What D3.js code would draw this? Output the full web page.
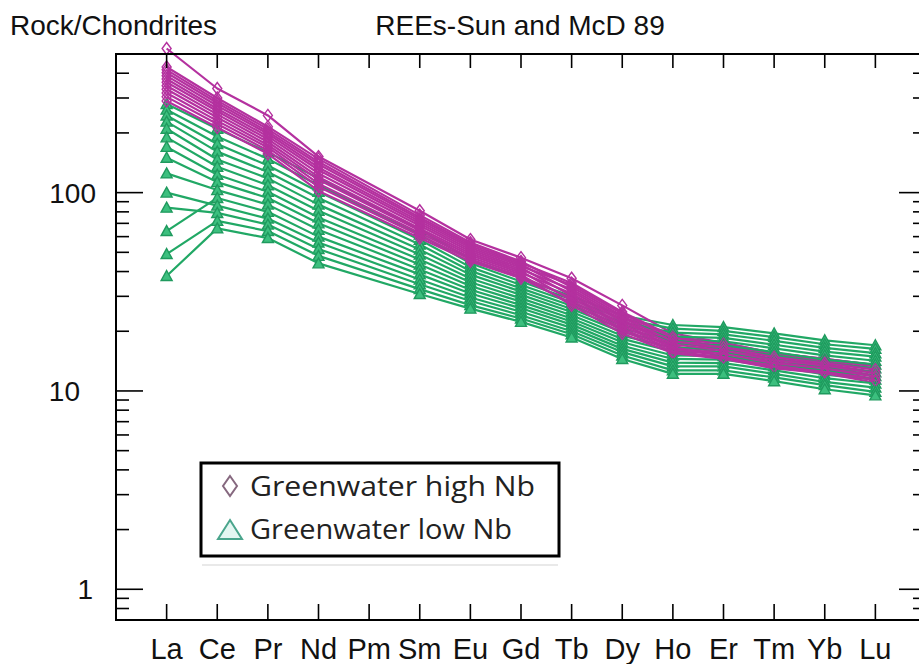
<!DOCTYPE html>
<html>
<head>
<meta charset="utf-8">
<script src="https://cdn.jsdelivr.net/npm/d3@7"></script>
<style>
  html, body { margin: 0; padding: 0; background: #fff; }
  svg { display: block; }
</style>
</head>
<body>
<svg id="chart" width="919" height="664"></svg>
<script>
// ---------- DATA ----------
const categories = ["La","Ce","Pr","Nd","Pm","Sm","Eu","Gd","Tb","Dy","Ho","Er","Tm","Yb","Lu"];
const yTickLabels = [1, 10, 100];
const titleLeft = "Rock/Chondrites";
const titleCenter = "REEs-Sun and McD 89";
const legendLabels = ["Greenwater high Nb", "Greenwater low Nb"];

// Greenwater high Nb (diamonds)
const highNb = [
  [533,335,245,152,null,81,58,47,37,27,19.5,17.5,15.5,14.5,13.5],
  [430,300,215,148,null,77,56,45,33.4,23.9,18.1,16.9,15,14.1,13],
  [416,291,209,143,null,75,54.9,44.2,35,25,18.8,17.5,15.5,14.5,13.5],
  [402,283,203,139,null,73.4,53.8,43.4,31.8,22.8,17.5,16.3,14.5,13.6,12.5],
  [388,274,198,134,null,71.6,52.7,42.6,34.2,24.5,18.5,17.2,15.3,14.3,13.3],
  [374,265,192,130,null,69.8,51.6,41.8,30.2,21.7,16.8,15.7,14,13.2,12],
  [360,257,186,125,null,68,50.5,41,32.6,23.4,17.8,16.6,14.8,13.8,12.8],
  [346,248,180,120,null,66,49.4,40.2,28.6,20.6,16.2,15.1,13.5,12.7,11.5],
  [332,239,174,116,null,64.4,48.3,39.4,31,22.3,17.2,16,14.3,13.4,12.3],
  [318,230,169,111,null,62.6,47.2,38.6,27,19.5,15.5,14.5,13,12.3,11],
  [304,222,163,107,null,60.8,46.1,37.8,29.4,21.2,16.5,15.4,13.8,13,11.8],
  [290,213,157,102,null,59,45,37,27.8,20.1,15.8,14.8,13.3,12.5,11.3]
];

// Greenwater low Nb (triangles)
const lowNb = [
  [280,210,160,118,null,65,46,37,30,24,21.5,21,19.5,18,17],
  [262,192,148,109,null,61.4,44,35.6,28.9,23.1,20.6,20.1,18.7,17.2,16.3],
  [245,176,137,101,null,57.9,42.1,34.2,27.9,22.2,19.7,19.3,17.9,16.5,15.5],
  [228,161,127,94,null,54.7,40.3,32.9,26.9,21.4,18.8,18.5,17.1,15.8,14.9],
  [210,147,118,87,null,51.6,38.6,31.7,25.9,20.6,18,17.8,16.4,15.1,14.2],
  [190,135,109,81,null,48.7,36.9,30.5,25,19.8,17.3,17,15.7,14.4,13.6],
  [170,123,101,75,null,46,35.3,29.3,24.1,19,16.5,16.3,15.1,13.8,13],
  [150,113,94,70,null,43.4,33.8,28.2,23.2,18.3,15.8,15.7,14.4,13.2,12.4],
  [125,103,87,65,null,41,32.4,27.1,22.4,17.6,15.1,15,13.8,12.7,11.9],
  [64,94,80,60,null,38.7,31,26.1,21.6,16.9,14.5,14.4,13.3,12.1,11.4],
  [100,86,74,56,null,36.5,29.6,25.1,20.8,16.3,13.9,13.8,12.7,11.6,10.9],
  [84,79,69,52,null,34.5,28.4,24.1,20,15.7,13.3,13.3,12.2,11.1,10.4],
  [49,72,64,48,null,32.6,27.1,23.2,19.3,15.1,12.7,12.7,11.7,10.7,9.9],
  [38,66,59,44,null,30.8,26,22.3,18.6,14.5,12.2,12.2,11.2,10.2,9.5]
];

// ---------- STYLE ----------
const magenta = "#b4319f";
const green = "#21a865";
const font = "'Liberation Sans', Arial, sans-serif";
const yLabelRightEdge = { 1: 93, 10: 80, 100: 96 };

const svg = d3.select("#chart");
const W = 919, H = 664;
const plot = { left: 116, right: 926, top: 54, bottom: 620 };

const x = d3.scalePoint().domain(categories).range([plot.left, plot.right]).padding(1);
const y = d3.scaleLog().domain([0.7, 500]).range([plot.bottom, plot.top]);

svg.append("rect").attr("width", W).attr("height", H).attr("fill", "#fff");

// ---------- DATA MARKS ----------
const gData = svg.append("g");
const line = d3.line().x(d => x(d.c)).y(d => y(d.v));
const toPoints = arr => arr.map((v, i) => ({ c: categories[i], v })).filter(d => d.v != null);

const diamond = "M0,-6L4.5,0L0,6L-4.5,0Z";
const triangle = "M0,-5.5L5.5,4.5L-5.5,4.5Z";

const nMax = Math.max(highNb.length, lowNb.length);
for (let i = 0; i < nMax; i++) {
  if (i < lowNb.length) drawSeries(lowNb[i], green, "low");
  if (i < highNb.length) drawSeries(highNb[i], magenta, "high");
}
function drawSeries(arr, color, kind) {
  const pts = toPoints(arr);
  gData.append("path").datum(pts).attr("d", line)
    .attr("fill", "none").attr("stroke", color).attr("stroke-width", 2.2)
    .attr("stroke-linejoin", "round");
  gData.selectAll(null).data(pts).enter().append("path")
    .attr("transform", d => `translate(${x(d.c)},${y(d.v)})`)
    .attr("d", kind === "high" ? diamond : triangle)
    .attr("fill", kind === "high" ? "none" : "#3cbf7e")
    .attr("stroke", kind === "high" ? color : "#1f9a5e")
    .attr("stroke-width", 1.4);
}

// ---------- AXES / FRAME ----------
const gAx = svg.append("g").attr("stroke", "#000");
gAx.append("rect")
  .attr("x", plot.left).attr("y", plot.top)
  .attr("width", plot.right - plot.left).attr("height", plot.bottom - plot.top)
  .attr("fill", "none").attr("stroke-width", 2);

const yTicks = y.ticks().filter(v => v >= 0.7 && v <= 500);
const isMajor = v => Math.abs(Math.log10(v) - Math.round(Math.log10(v))) < 1e-9;
yTicks.forEach(v => {
  const len = isMajor(v) ? 27 : 13;
  gAx.append("line").attr("x1", plot.left).attr("x2", plot.left + len)
    .attr("y1", y(v)).attr("y2", y(v)).attr("stroke-width", 1.6);
  gAx.append("line").attr("x1", plot.right).attr("x2", plot.right - len)
    .attr("y1", y(v)).attr("y2", y(v)).attr("stroke-width", 1.6);
});
categories.forEach(c => {
  gAx.append("line").attr("x1", x(c)).attr("x2", x(c))
    .attr("y1", plot.bottom).attr("y2", plot.bottom - 16).attr("stroke-width", 1.6);
  gAx.append("line").attr("x1", x(c)).attr("x2", x(c))
    .attr("y1", plot.top).attr("y2", plot.top + 14).attr("stroke-width", 1.6);
});

// Y labels
svg.append("g").selectAll("text").data(yTickLabels).enter().append("text")
  .attr("x", d => yLabelRightEdge[d]).attr("y", d => y(d) + 10)
  .attr("text-anchor", "end")
  .attr("font-family", font).attr("font-size", 28).attr("fill", "#111")
  .text(d => d3.format("d")(d));

// X labels
svg.append("g").selectAll("text").data(categories).enter().append("text")
  .attr("x", d => x(d)).attr("y", 659)
  .attr("text-anchor", "middle")
  .attr("font-family", font).attr("font-size", 29).attr("fill", "#111")
  .text(d => d);

// Titles
svg.append("text").attr("x", 10).attr("y", 35)
  .attr("font-family", font).attr("font-size", 28).attr("fill", "#111")
  .text(titleLeft);
svg.append("text").attr("x", 520).attr("y", 35).attr("text-anchor", "middle")
  .attr("font-family", font).attr("font-size", 28).attr("fill", "#111")
  .text(titleCenter);

// ---------- LEGEND ----------
const lg = svg.append("g");
lg.append("line").attr("x1", 202).attr("x2", 558).attr("y1", 565).attr("y2", 565)
  .attr("stroke", "#e2e2e2").attr("stroke-width", 1.5);
lg.append("rect").attr("x", 201).attr("y", 463).attr("width", 358).attr("height", 93)
  .attr("fill", "#fff").attr("stroke", "#000").attr("stroke-width", 3);
lg.append("path").attr("transform", "translate(230,486)")
  .attr("d", "M0,-10L7,0L0,10L-7,0Z")
  .attr("fill", "#fff").attr("stroke", "#86687f").attr("stroke-width", 2);
lg.append("path").attr("transform", "translate(230,530)")
  .attr("d", "M0,-10L12,9L-12,9Z")
  .attr("fill", "#e4f6f1").attr("stroke", "#4aa58c").attr("stroke-width", 2);
lg.selectAll("text.lg").data(legendLabels).enter().append("text")
  .attr("class", "lg")
  .attr("x", 250).attr("y", (d, i) => 496 + i * 43)
  .attr("font-family", "'Open Sans', 'Noto Sans', sans-serif").attr("font-size", 28)
  .attr("fill", "#222")
  .attr("textLength", (d, i) => i === 0 ? 285 : 262)
  .attr("lengthAdjust", "spacingAndGlyphs")
  .text(d => d);
</script>
</body>
</html>
